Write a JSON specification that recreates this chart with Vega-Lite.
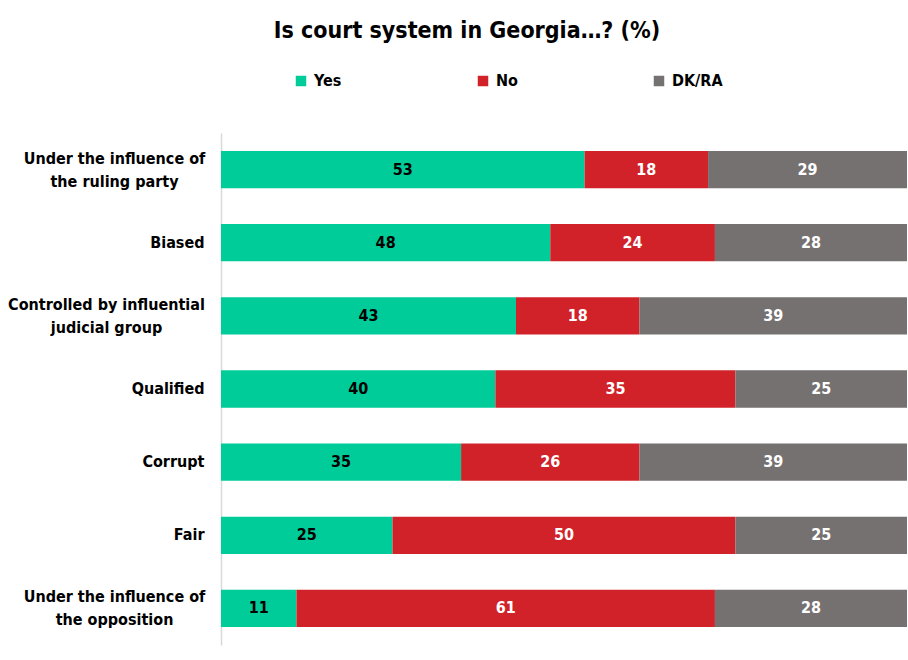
{
  "$schema": "https://vega.github.io/schema/vega-lite/v6.json",
  "autosize": "none",
  "width": 686,
  "height": 512,
  "padding": {"left": 221, "top": 133, "right": 1, "bottom": 15},
  "background": "white",
  "title": {
    "text": "Is court system in Georgia…? (%)",
    "anchor": "middle",
    "frame": "group",
    "dx": -97,
    "offset": 30,
    "fontSize": 23,
    "fontWeight": "bold",
    "font": "Liberation Sans Narrow, DejaVu Sans Condensed, sans-serif",
    "color": "#000000"
  },
  "config": {
    "view": {"stroke": null},
    "font": "Liberation Sans Narrow, DejaVu Sans Condensed, sans-serif"
  },
  "data": {
    "values": [
      {"item": "Under the influence of|the ruling party", "answer": "Yes", "pct": 53},
      {"item": "Under the influence of|the ruling party", "answer": "No", "pct": 18},
      {"item": "Under the influence of|the ruling party", "answer": "DK/RA", "pct": 29},
      {"item": "Biased", "answer": "Yes", "pct": 48},
      {"item": "Biased", "answer": "No", "pct": 24},
      {"item": "Biased", "answer": "DK/RA", "pct": 28},
      {"item": "Controlled by influential|judicial group", "answer": "Yes", "pct": 43},
      {"item": "Controlled by influential|judicial group", "answer": "No", "pct": 18},
      {"item": "Controlled by influential|judicial group", "answer": "DK/RA", "pct": 39},
      {"item": "Qualified", "answer": "Yes", "pct": 40},
      {"item": "Qualified", "answer": "No", "pct": 35},
      {"item": "Qualified", "answer": "DK/RA", "pct": 25},
      {"item": "Corrupt", "answer": "Yes", "pct": 35},
      {"item": "Corrupt", "answer": "No", "pct": 26},
      {"item": "Corrupt", "answer": "DK/RA", "pct": 39},
      {"item": "Fair", "answer": "Yes", "pct": 25},
      {"item": "Fair", "answer": "No", "pct": 50},
      {"item": "Fair", "answer": "DK/RA", "pct": 25},
      {"item": "Under the influence of|the opposition", "answer": "Yes", "pct": 11},
      {"item": "Under the influence of|the opposition", "answer": "No", "pct": 61},
      {"item": "Under the influence of|the opposition", "answer": "DK/RA", "pct": 28}
    ]
  },
  "transform": [
    {"calculate": "indexof(['Yes','No','DK/RA'], datum.answer)", "as": "ord"},
    {"stack": "pct", "groupby": ["item"], "sort": [{"field": "ord", "order": "ascending"}], "as": ["p0", "p1"]},
    {"calculate": "(datum.p0 + datum.p1) / 2", "as": "mid"}
  ],
  "encoding": {
    "y": {
      "field": "item",
      "type": "nominal",
      "sort": null,
      "title": null,
      "scale": {"paddingInner": 0.49, "paddingOuter": 0.245},
      "axis": {
        "labelExpr": "split(datum.label, '|')",
        "labelFontSize": 16,
        "labelFontWeight": "bold",
        "labelColor": "#000000",
        "labelLineHeight": 23,
        "labelAlign": {
          "condition": {"test": "indexof(datum.value, '|') >= 0", "value": "center"},
          "value": "right"
        },
        "labelPadding": {
          "condition": [
            {"test": "indexof(datum.value, 'Controlled') >= 0", "value": 115},
            {"test": "indexof(datum.value, '|') >= 0", "value": 107}
          ],
          "value": 17
        },
        "labelOffset": {
          "condition": {"test": "indexof(datum.value, '|') >= 0", "value": -11},
          "value": 0
        },
        "labelLimit": 220,
        "ticks": false,
        "domainColor": "#d9d9d9",
        "domainWidth": 1.5,
        "grid": false
      }
    }
  },
  "layer": [
    {
      "mark": {"type": "bar"},
      "encoding": {
        "x": {"field": "p0", "type": "quantitative", "scale": {"domain": [0, 100], "nice": false}, "axis": null},
        "x2": {"field": "p1"},
        "color": {
          "field": "answer",
          "type": "nominal",
          "sort": ["Yes", "No", "DK/RA"],
          "scale": {"domain": ["Yes", "No", "DK/RA"], "range": ["#00cc99", "#d12229", "#767171"]},
          "legend": {
            "title": null,
            "orient": "none",
            "legendX": 72,
            "legendY": -60,
            "direction": "horizontal",
            "symbolType": "square",
            "symbolSize": 110,
            "symbolStrokeWidth": 0,
            "labelFontSize": 16,
            "labelFontWeight": "bold",
            "labelColor": "#000000",
            "columnPadding": 133,
            "labelOffset": 5
          }
        }
      }
    },
    {
      "mark": {"type": "text", "fontSize": 16, "fontWeight": "bold", "baseline": "middle", "align": "center"},
      "encoding": {
        "x": {"field": "mid", "type": "quantitative"},
        "text": {"field": "pct", "type": "quantitative"},
        "color": {
          "condition": {"test": "datum.answer === 'Yes'", "value": "#000000"},
          "value": "#ffffff"
        }
      }
    }
  ]
}
